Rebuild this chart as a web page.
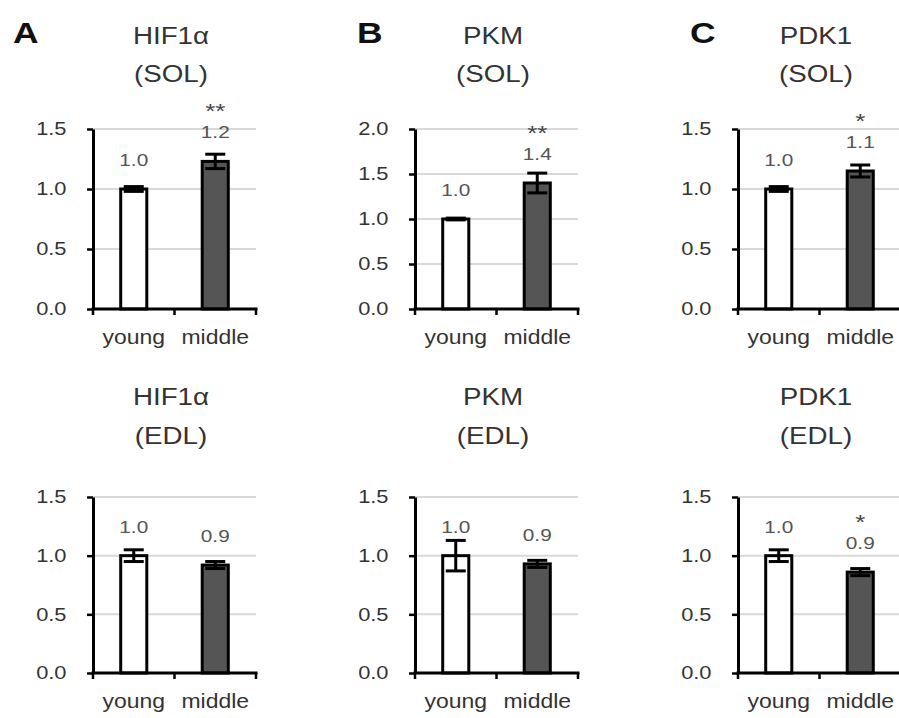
<!DOCTYPE html>
<html>
<head>
<meta charset="utf-8">
<script src="https://cdn.jsdelivr.net/npm/d3@7"></script>
<style>
  body { margin: 0; background: #fff; }
  svg text { font-family: "Liberation Sans", Arial, sans-serif; }
</style>
</head>
<body>
<main></main>
<script>
const w = 899;
const h = 718;

// data
const genes = ["HIF1α", "PKM", "PDK1"];
const letters = ["A", "B", "C"];
const muscles = ["SOL", "EDL"];
const groups = ["young", "middle"];

const means = [
  [[1.0, 1.23], [1.0, 1.4], [1.0, 1.15]],
  [[1.0, 0.92], [1.0, 0.93], [1.0, 0.86]],
];
const errors = [
  [[0.02, 0.06], [0.01, 0.11], [0.02, 0.05]],
  [[0.05, 0.03], [0.13, 0.03], [0.05, 0.03]],
];
const valueLabels = [
  [["1.0", "1.2"], ["1.0", "1.4"], ["1.0", "1.1"]],
  [["1.0", "0.9"], ["1.0", "0.9"], ["1.0", "0.9"]],
];
const stars = [
  [["", "**"], ["", "**"], ["", "*"]],
  [["", ""], ["", ""], ["", "*"]],
];
const yMax = [
  [1.5, 2.0, 1.5],
  [1.5, 1.5, 1.5],
];
const fills = ["#ffffff", "#555555"];

// layout
const colX = [93, 415, 738];
const letterX = [13, 357, 690];
const rowBase = [309, 673];
const rowTop = [129, 497];
const titleY = [[44, 82], [405, 444]];
const plotW = 163;
const sx = 1.18; // text in the figure is slightly wide

const svg = d3
  .select("main")
  .append("svg")
  .attr("width", w)
  .attr("height", h);

function wideText(sel, x, y, str, k = sx) {
  return sel
    .append("text")
    .attr("transform", `translate(${x},${y}) scale(${k},1)`)
    .text(str);
}

letters.forEach((l, c) => {
  wideText(svg, letterX[c], 43, l)
    .attr("font-size", 30)
    .attr("font-weight", "bold")
    .attr("fill", "#111");
});

muscles.forEach((m, r) => {
  genes.forEach((gene, c) => {
    const g = svg.append("g").attr("transform", `translate(${colX[c]},0)`);

    const y = d3
      .scaleLinear()
      .domain([0, yMax[r][c]])
      .range([rowBase[r], rowTop[r]]);

    const x = d3
      .scaleBand()
      .domain(groups)
      .range([0, plotW])
      .paddingInner(0.68)
      .paddingOuter(0.34);

    const ticks = d3.range(0, yMax[r][c] + 0.01, 0.5);

    // title
    wideText(g, 78, titleY[r][0], gene)
      .attr("text-anchor", "middle")
      .attr("font-size", 23.5)
      .attr("fill", "#333");
    wideText(g, 78, titleY[r][1], `(${m})`)
      .attr("text-anchor", "middle")
      .attr("font-size", 23.5)
      .attr("fill", "#333");

    // grid
    g.selectAll(".grid")
      .data(ticks.slice(1))
      .join("line")
      .attr("x1", 0)
      .attr("x2", plotW)
      .attr("y1", (d) => y(d))
      .attr("y2", (d) => y(d))
      .attr("stroke", "#d9d9d9")
      .attr("stroke-width", 2);

    // bars
    g.selectAll(".bar")
      .data(groups)
      .join("rect")
      .attr("x", (d) => x(d))
      .attr("width", x.bandwidth())
      .attr("y", (d, i) => y(means[r][c][i]))
      .attr("height", (d, i) => y(0) - y(means[r][c][i]))
      .attr("fill", (d, i) => fills[i])
      .attr("stroke", "#000")
      .attr("stroke-width", 3);

    // error bars
    const capW = 20;
    groups.forEach((grp, i) => {
      const cx = x(grp) + x.bandwidth() / 2;
      const hi = y(means[r][c][i] + errors[r][c][i]);
      const lo = y(means[r][c][i] - errors[r][c][i]);
      const eb = g.append("g").attr("stroke", "#000").attr("stroke-width", 3);
      eb.append("line").attr("x1", cx).attr("x2", cx).attr("y1", hi).attr("y2", lo);
      eb.append("line").attr("x1", cx - capW / 2).attr("x2", cx + capW / 2).attr("y1", hi).attr("y2", hi);
      eb.append("line").attr("x1", cx - capW / 2).attr("x2", cx + capW / 2).attr("y1", lo).attr("y2", lo);

      const labY = y(means[r][c][i]) - 23;
      wideText(g, cx, labY, valueLabels[r][c][i], 1.3)
        .attr("text-anchor", "middle")
        .attr("font-size", 16)
        .attr("fill", "#555");
      if (stars[r][c][i]) {
        wideText(g, cx, labY - 20, stars[r][c][i], 1.3)
          .attr("text-anchor", "middle")
          .attr("font-size", 20)
          .attr("fill", "#444");
      }
    });

    // y axis
    const yAxis = g
      .append("g")
      .call(
        d3
          .axisLeft(y)
          .tickValues(ticks)
          .tickSize(6)
          .tickSizeOuter(0)
          .tickFormat(d3.format(".1f"))
      );
    yAxis.select(".domain").attr("stroke", "#000").attr("stroke-width", 3);
    yAxis.selectAll(".tick line").attr("stroke", "#000").attr("stroke-width", 2.5);
    yAxis
      .selectAll(".tick text")
      .attr("x", -22.5)
      .attr("transform", `scale(${sx},1)`)
      .attr("font-size", 18.5)
      .attr("font-family", "Liberation Sans, Arial, sans-serif")
      .attr("fill", "#333");

    // x axis: category boundaries
    const bounds = [0, plotW / 2, plotW];
    g.append("line")
      .attr("x1", -1.5)
      .attr("x2", plotW + 1.5)
      .attr("y1", y(0))
      .attr("y2", y(0))
      .attr("stroke", "#000")
      .attr("stroke-width", 3);
    g.selectAll(".xtick")
      .data(bounds)
      .join("line")
      .attr("x1", (d) => d)
      .attr("x2", (d) => d)
      .attr("y1", y(0))
      .attr("y2", y(0) + 6)
      .attr("stroke", "#000")
      .attr("stroke-width", 2.5);

    groups.forEach((grp) => {
      wideText(g, x(grp) + x.bandwidth() / 2, y(0) + 35, grp, 1.12)
        .attr("text-anchor", "middle")
        .attr("font-size", 20.5)
        .attr("fill", "#333");
    });
  });
});
</script>
</body>
</html>
